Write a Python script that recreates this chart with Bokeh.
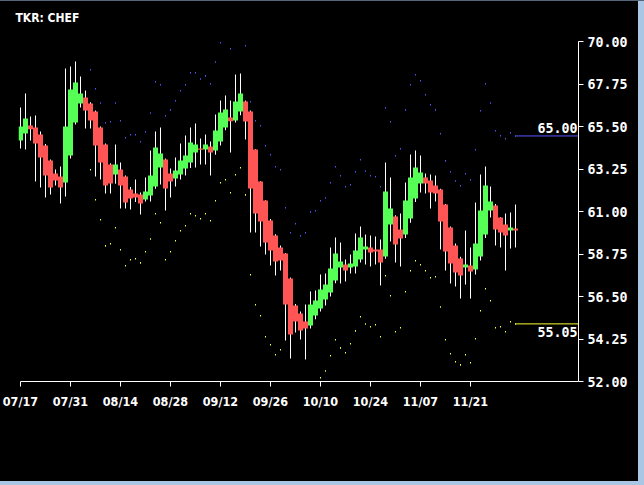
import numpy as np
from bokeh.plotting import figure
from bokeh.layouts import column
from bokeh.models import ColumnDataSource, FixedTicker, NumeralTickFormatter, Range1d
from bokeh.core.properties import value
from bokeh.embed import file_html
from bokeh.resources import INLINE

# ---- daily OHLC for CHEF, one bar per trading day ----
open_ = [64.76, 65.13, 65.55, 65.45, 65.08, 64.50, 63.70, 63.01, 62.85, 62.54,
         63.97, 65.71, 66.72, 67.04, 66.72, 66.30, 65.45, 64.55, 63.49, 62.96,
         63.23, 62.85, 62.17, 61.95, 61.90, 61.64, 61.85, 62.33, 63.33, 63.75,
         63.01, 62.75, 62.96, 63.28, 63.60, 64.12, 64.34, 64.28, 64.44, 64.23,
         64.71, 65.45, 65.98, 65.82, 66.30, 66.82, 66.30, 64.28, 62.59, 61.58,
         60.53, 59.73, 59.10, 58.78, 57.45, 56.02, 55.60, 55.18, 54.97, 55.50,
         55.87, 56.34, 56.71, 57.35, 58.04, 58.20, 58.04, 58.09, 58.46, 58.99,
         59.10, 58.99, 58.99, 58.62, 60.31, 60.74, 60.05, 59.78, 60.63, 61.69,
         62.48, 62.80, 62.64, 62.38, 62.17, 61.37, 60.15, 59.20, 58.51, 58.04,
         58.14, 57.93, 58.62, 59.78, 61.05, 61.32, 60.68, 60.31, 59.99, 60.10]
high = [66.51, 67.25, 66.03, 66.08, 65.24, 64.58, 63.75, 63.23, 63.38, 68.57,
        68.68, 68.94, 68.15, 67.41, 66.79, 66.35, 65.50, 64.60, 63.55, 64.55,
        63.60, 62.90, 62.30, 62.70, 62.01, 62.80, 64.23, 65.24, 65.45, 63.80,
        63.28, 63.86, 64.60, 65.02, 65.45, 65.66, 64.87, 65.08, 64.71, 66.14,
        66.88, 67.14, 66.88, 68.25, 68.31, 66.88, 66.35, 64.30, 62.60, 61.60,
        60.60, 59.80, 59.20, 58.80, 57.50, 56.10, 55.70, 56.08, 56.77, 56.82,
        57.67, 57.72, 59.10, 59.63, 59.36, 58.46, 58.73, 59.84, 60.21, 59.78,
        59.73, 59.68, 59.52, 63.60, 62.80, 60.80, 60.90, 62.54, 64.02, 64.23,
        63.97, 63.01, 62.96, 62.91, 62.20, 61.40, 60.20, 59.30, 58.60, 59.99,
        59.10, 61.48, 62.96, 63.38, 62.33, 61.40, 60.70, 60.90, 60.95, 61.37]
low = [64.34, 64.28, 64.76, 62.59, 62.27, 61.74, 61.90, 62.38, 61.42, 61.80,
       63.80, 65.60, 66.51, 65.40, 65.40, 62.85, 62.70, 61.95, 61.95, 62.47,
       61.16, 61.16, 61.11, 61.50, 60.84, 61.53, 61.53, 62.20, 62.43, 61.05,
       61.74, 62.33, 62.70, 62.91, 63.30, 63.33, 63.49, 63.49, 62.91, 64.00,
       64.50, 65.30, 64.12, 65.71, 66.10, 64.81, 59.89, 59.89, 59.15, 58.73,
       58.14, 57.61, 57.88, 54.17, 53.22, 54.60, 54.22, 53.17, 54.81, 55.30,
       55.70, 56.02, 56.50, 57.20, 57.19, 57.30, 57.72, 57.72, 58.30, 58.20,
       58.09, 58.20, 57.08, 58.50, 59.41, 58.30, 58.09, 59.60, 60.40, 61.50,
       62.01, 61.95, 61.16, 61.53, 58.99, 57.88, 57.19, 57.03, 56.40, 57.14,
       56.40, 57.67, 58.40, 59.60, 60.68, 59.20, 59.10, 57.88, 59.04, 59.10]
close = [65.50, 65.92, 65.36, 64.60, 63.86, 62.91, 62.27, 62.64, 62.27, 65.50,
         67.46, 67.83, 67.25, 66.35, 65.82, 64.50, 63.60, 62.38, 62.48, 63.49,
         62.38, 61.48, 61.69, 61.74, 61.42, 62.06, 62.91, 64.39, 64.07, 62.22,
         62.59, 63.17, 63.70, 63.97, 64.65, 64.55, 64.27, 64.55, 64.12, 65.29,
         66.24, 66.40, 65.78, 66.82, 67.25, 65.77, 62.22, 60.90, 60.47, 59.36,
         58.94, 58.35, 58.41, 56.08, 54.49, 55.18, 54.70, 54.81, 56.08, 56.29,
         56.87, 57.14, 57.98, 58.78, 58.35, 57.88, 58.25, 58.94, 59.63, 59.15,
         58.83, 58.88, 58.30, 62.06, 61.16, 59.25, 59.57, 61.58, 62.80, 63.33,
         63.07, 62.48, 62.01, 61.95, 60.47, 58.88, 58.25, 57.77, 57.61, 58.20,
         57.83, 59.31, 61.05, 62.38, 61.53, 60.05, 59.89, 59.73, 60.15, 59.99]

# ---- channel bands (start after a 14-day lookback) ----
nan = float("nan")
upper_band = [nan] * 14 + [
    68.50, 67.50, 66.75, 65.70, 65.75, 66.75, 65.80, 64.90, 65.06, 65.06,
    64.69, 65.22, 66.22, 67.87, 67.71, 66.07, 66.38, 66.86, 67.39, 67.71,
    68.34, 68.34, 68.02, 68.18, 67.76, 68.92, 69.93, 70.20, 69.61, 70.30,
    70.20, 69.77, 66.81, 65.80, 65.54, 64.48, 64.00, 63.37, 63.21, 61.20,
    59.87, 60.35, 59.71, 59.87, 60.98, 61.04, 61.57, 61.72, 62.52, 63.37,
    62.89, 62.31, 62.41, 63.10, 63.74, 63.15, 62.89, 62.84, 62.31, 66.49,
    65.75, 63.95, 64.32, 66.38, 67.71, 68.24, 67.92, 67.18, 66.65, 66.38,
    65.11, 63.68, 63.10, 62.62, 62.36, 63.00, 62.68, 64.27, 66.33, 67.76,
    66.75, 65.27, 65.01, 64.85, 65.17, 65.00]
lower_band = [nan] * 14 + [
    63.21, 61.62, 60.56, 59.18, 59.29, 60.14, 58.97, 58.13, 58.44, 58.50,
    58.28, 58.87, 59.55, 60.88, 60.40, 58.44, 58.87, 59.45, 59.98, 60.24,
    60.88, 60.77, 60.61, 60.88, 60.51, 61.57, 62.52, 62.68, 61.99, 62.94,
    63.31, 61.88, 57.65, 56.06, 55.48, 54.37, 53.94, 53.41, 53.68, 51.40,
    50.70, 50.50, 50.60, 50.90, 51.30, 51.70, 52.20, 52.55, 53.36, 54.21,
    53.78, 53.52, 54.00, 54.68, 55.43, 55.05, 54.90, 55.00, 54.37, 57.60,
    56.54, 54.63, 54.84, 56.75, 57.86, 58.39, 58.18, 57.86, 57.49, 57.54,
    55.95, 54.21, 53.47, 53.04, 52.88, 53.41, 52.99, 54.26, 55.74, 56.91,
    56.27, 54.84, 54.90, 54.63, 55.16, 55.05]

date_labels = ["07/17", "07/31", "08/14", "08/28", "09/12",
               "09/26", "10/10", "10/24", "11/07", "11/21"]
date_positions = [0, 10, 20, 30, 40, 50, 60, 70, 80, 90]
price_ticks = [52.00, 54.25, 56.50, 58.75, 61.00, 63.25, 65.50, 67.75, 70.00]

UP = "#55ff55"
DOWN = "#ff5555"
BAND_HI = "#5555ff"
BAND_LO = "#ffff30"
MONO = "DejaVu Sans Mono"
NARROW = "Liberation Sans Narrow, DejaVu Sans Condensed, DejaVu Sans"
FRAME_BLUE = "#a9c7e5"

n = len(close)
idx = np.arange(n)
o = np.array(open_)
c = np.array(close)
bars = ColumnDataSource(dict(
    x=idx, high=np.array(high), low=np.array(low),
    top=np.maximum(o, c), bottom=np.minimum(o, c),
    color=[UP if cc >= oo else DOWN for oo, cc in zip(open_, close)],
))
bands = ColumnDataSource(dict(
    x=idx, upper=np.array(upper_band, dtype=float), lower=np.array(lower_band, dtype=float),
))

# 5 px per trading day; the range is nudged a tenth of a day so that
# bars land on whole pixels
x_start, x_end = -0.4, 111.6
p = figure(width=638, height=480,
           x_range=Range1d(x_start, x_end), y_range=Range1d(52, 70),
           y_axis_location="right",
           output_backend="svg", toolbar_location=None,
           min_border_left=18, min_border_right=60,
           min_border_top=40, min_border_bottom=100,
           background_fill_color="black", border_fill_color="black")
p.outline_line_color = None
p.xgrid.grid_line_color = None
p.ygrid.grid_line_color = None

# ticker heading; an empty second line keeps it near the top edge
p.title.text = "TKR: " + "CHEF" + "\n "
p.title.text_color = "white"
p.title.text_font = NARROW
p.title.text_font_size = "12px"
p.title.text_font_style = "bold"
p.title.align = "left"
p.title.vertical_align = "top"
p.title.offset = -3
p.title.standoff = 2

# price axis on the right
ya = p.yaxis[0]
ya.ticker = FixedTicker(ticks=price_ticks)
ya.formatter = NumeralTickFormatter(format="0.00")
ya.bounds = (52, 70)
ya.axis_line_color = "white"
ya.major_tick_line_color = "white"
ya.minor_tick_line_color = None
ya.major_tick_out = 5
ya.major_tick_in = 0
ya.major_label_standoff = 4
ya.major_label_text_color = "white"
ya.major_label_text_font = MONO
ya.major_label_text_font_size = "13.3px"
ya.major_label_text_font_style = "bold"

# date axis
xa = p.xaxis[0]
xa.ticker = FixedTicker(ticks=date_positions)
xa.major_label_overrides = {pos: lab for pos, lab in zip(date_positions, date_labels)}
xa.bounds = (0, x_end)
xa.axis_line_color = "white"
xa.major_tick_line_color = "white"
xa.minor_tick_line_color = None
xa.major_tick_out = 5
xa.major_tick_in = 0
xa.major_label_standoff = 7
xa.major_label_text_color = "white"
xa.major_label_text_font = NARROW
xa.major_label_text_font_size = "12.5px"
xa.major_label_text_font_style = "bold"

# candles: wicks first, bodies on top
p.vbar(x="x", width=0.2, top="high", bottom="low", source=bars,
       fill_color="white", line_color=None)
p.vbar(x="x", width=1.0, top="top", bottom="bottom", source=bars,
       fill_color="color", line_color=None)

# band dots
p.rect(x="x", y="upper", width=0.2, height=0.08, source=bands,
       fill_color=BAND_HI, line_color=None)
p.rect(x="x", y="lower", width=0.2, height=0.08, source=bands,
       fill_color=BAND_LO, line_color=None)

# last band values carried to the price axis
last = n - 1
hi_last = upper_band[-1]
lo_last = lower_band[-1]
p.segment(x0=[last], y0=[hi_last], x1=[x_end], y1=[hi_last], line_color=BAND_HI, line_width=1)
p.segment(x0=[last], y0=[lo_last], x1=[x_end], y1=[lo_last], line_color=BAND_LO, line_width=1)
p.text(x=[x_end], y=[hi_last], text=[f"{hi_last:.2f}"], text_align="right",
       text_baseline="bottom", x_offset=-1, y_offset=-3, text_color="white",
       text_font=value(MONO), text_font_size="13.3px", text_font_style="bold")
p.text(x=[x_end], y=[lo_last], text=[f"{lo_last:.2f}"], text_align="right",
       text_baseline="top", x_offset=-1, y_offset=3, text_color="white",
       text_font=value(MONO), text_font_size="13.3px", text_font_style="bold")

# black backing under the canvas, then the window frame around it
inner = column(p, styles={"background-color": "black"})
root = column(inner, styles={"background-color": FRAME_BLUE,
                             "border-top": "1px solid #56667a",
                             "padding": "0px 6px 4px 0px"})

open("out.html", "w").write(file_html(root, INLINE))
